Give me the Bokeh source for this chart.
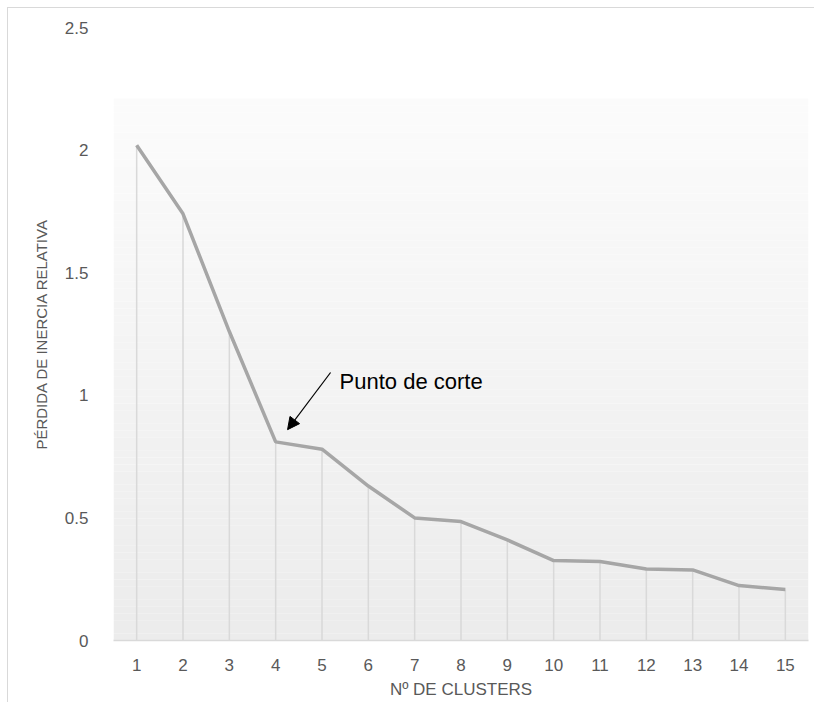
import numpy as np
from bokeh.plotting import figure
from bokeh.models import Range1d, FixedTicker, Arrow, NormalHead, Label
from bokeh.embed import file_html
from bokeh.resources import INLINE

# ---- data ----
clusters = [1, 2, 3, 4, 5, 6, 7, 8, 9, 10, 11, 12, 13, 14, 15]
perdida = [2.02, 1.74, 1.26, 0.81, 0.78, 0.63, 0.50, 0.485, 0.41,
           0.326, 0.322, 0.292, 0.288, 0.224, 0.208]
y_ticks = [0, 0.5, 1, 1.5, 2, 2.5]
y_tick_labels = ["0", "0.5", "1", "1.5", "2", "2.5"]
annot_text = "Punto de corte"
annot_target = 4

FONT = "Liberation Sans"
GREY_TXT = "#595959"

p = figure(width=807, height=695, output_backend="svg", toolbar_location=None,
           x_range=Range1d(0.5, 15.5), y_range=Range1d(0, 2.5),
           min_border_left=105, min_border_right=7, min_border_top=19,
           min_border_bottom=63)
p.styles = {"margin-left": "7px", "margin-top": "7px",
            "border-left": "1px solid #d9d9d9", "border-top": "1px solid #d9d9d9"}
p.outline_line_color = None
p.background_fill_color = "white"
p.border_fill_color = "white"
p.grid.visible = False

# gradient plot-area background (white at top -> light grey at bottom)
N = 80
edges = np.linspace(0, 2.21, N + 1)
c_top = np.array([252, 252, 252])
c_bot = np.array([236, 236, 236])
cols = []
for i in range(N):
    t = (i + 0.5) / N  # 0 at bottom
    c = (c_bot + (c_top - c_bot) * t).astype(int)
    cols.append("#%02x%02x%02x" % tuple(c))
p.quad(left=0.5, right=15.5, bottom=edges[:-1], top=edges[1:],
       fill_color=cols, line_color=None)

# drop lines
p.segment(x0=clusters, y0=[0] * len(clusters), x1=clusters, y1=perdida,
          line_color="#d9d9d9", line_width=1.5)

# main line
p.line(clusters, perdida, line_color="#a6a6a6", line_width=3.5)

# annotation
ix = clusters.index(annot_target)
p.add_layout(Arrow(end=NormalHead(size=12, fill_color="black", line_color="black"),
                   x_start=annot_target + 1.185, y_start=perdida[ix] + 0.283,
                   x_end=annot_target + 0.257, y_end=perdida[ix] + 0.05,
                   line_color="black", line_width=1.2))
p.add_layout(Label(x=annot_target + 1.38, y=perdida[ix] + 0.245, text=annot_text,
                   text_font=FONT, text_font_size="22px", text_color="black",
                   text_baseline="middle", text_align="left"))

# axes
p.xaxis.ticker = FixedTicker(ticks=clusters)
p.xaxis.axis_label = "Nº DE CLUSTERS"
p.xaxis.axis_line_color = "#d9d9d9"
p.xaxis.axis_line_width = 1.5
p.xaxis.major_tick_line_color = None
p.xaxis.minor_tick_line_color = None
p.xaxis.major_label_standoff = 12
p.xaxis.axis_label_standoff = 6
p.xaxis.major_label_text_font = FONT
p.xaxis.major_label_text_font_size = "17px"
p.xaxis.major_label_text_color = GREY_TXT
p.xaxis.axis_label_text_font = FONT
p.xaxis.axis_label_text_font_size = "17px"
p.xaxis.axis_label_text_font_style = "normal"
p.xaxis.axis_label_text_color = GREY_TXT

p.yaxis.ticker = FixedTicker(ticks=y_ticks)
p.yaxis.major_label_overrides = {t: l for t, l in zip(y_ticks, y_tick_labels)}
p.yaxis.axis_label = "PÉRDIDA DE INERCIA RELATIVA"
p.yaxis.axis_line_color = None
p.yaxis.major_tick_line_color = None
p.yaxis.minor_tick_line_color = None
p.yaxis.major_label_standoff = 19
p.yaxis.axis_label_standoff = 12
p.yaxis.major_label_text_font = FONT
p.yaxis.major_label_text_font_size = "17px"
p.yaxis.major_label_text_color = GREY_TXT
p.yaxis.axis_label_text_font = FONT
p.yaxis.axis_label_text_font_size = "15px"
p.yaxis.axis_label_text_font_style = "normal"
p.yaxis.axis_label_text_color = GREY_TXT

open("out.html", "w").write(file_html(p, INLINE))
